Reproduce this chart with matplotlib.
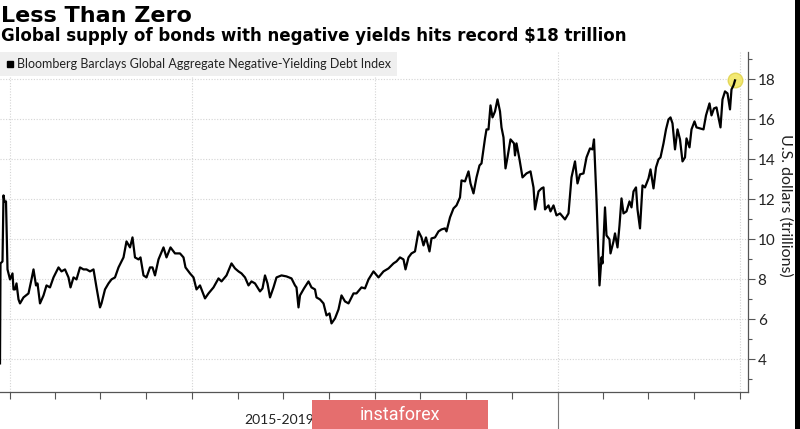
import matplotlib
matplotlib.use("Agg")
import matplotlib.pyplot as plt
import matplotlib.dates as mdates
from matplotlib.lines import Line2D
from matplotlib.patches import Rectangle
from matplotlib.ticker import MultipleLocator, NullFormatter
import pandas as pd

plt.rcParams['font.family'] = ['Lato', 'DejaVu Sans']

TITLE = "Less Than Zero"
SUBTITLE = "Global supply of bonds with negative yields hits record $18 trillion"
SERIES = "Bloomberg Barclays Global Aggregate Negative-Yielding Debt Index"
Y_LABEL = "U.S. dollars (trillions)"
X_LABEL = "2015-2019"
WATERMARK = "instaforex"
START = "2014-12-12"
SPAN_DAYS = 1496

# days since START
days = [0, 1, 5, 7, 9, 12, 15, 20, 25, 27,
        30, 33, 37, 40, 47, 57, 63, 67, 72, 75,
        80, 87, 93, 100, 107, 117, 123, 130, 137, 141,
        147, 153, 160, 167, 173, 180, 187, 193, 200, 203,
        210, 217, 223, 230, 237, 247, 253, 260, 265, 270,
        277, 281, 287, 293, 300, 305, 310, 317, 327, 333,
        341, 350, 360, 367, 371, 380, 387, 393, 400,
        410, 417, 427, 437, 443, 453, 463, 470, 477, 483,
        490, 497, 503, 510, 520, 525, 530, 535, 540, 547,
        553, 563, 573, 583, 590, 593, 597, 600, 608, 617,
        623, 630, 633, 640, 647, 653, 659, 663, 670, 677,
        683, 690, 697, 707, 713, 723, 730, 737, 747, 757,
        767, 777, 787, 793, 800, 807, 811, 817, 823, 830,
        837, 843, 847, 852, 859, 863, 870, 877, 883, 890,
        893, 900, 907, 913, 920, 923, 930, 937, 941, 947,
        953, 959, 963, 970, 973, 977, 981, 985, 990, 995,
        1000, 1003, 1007, 1011, 1015, 1021, 1028, 1030, 1033, 1039,
        1045, 1053, 1061, 1067, 1070, 1077, 1083, 1087, 1090, 1097,
        1101, 1107, 1113, 1120,
        1130, 1137, 1143, 1150, 1155, 1160, 1167, 1173, 1180, 1185,
        1188, 1193, 1199, 1203, 1205, 1210, 1213, 1219, 1221, 1227,
        1230, 1235, 1239, 1243, 1247, 1253, 1259, 1263, 1267, 1272,
        1275, 1280, 1285, 1290, 1297, 1301, 1307, 1312, 1317, 1321,
        1327, 1332, 1337, 1341, 1345, 1350, 1355, 1360, 1365, 1370,
        1373, 1379, 1383, 1389, 1393, 1400, 1407, 1412, 1419, 1423,
        1428, 1433, 1437, 1441, 1445, 1450, 1455, 1460, 1463, 1467,
        1470]

# trillions of dollars
debt = [3.8, 8.8, 8.9, 12.2, 11.9, 11.9, 8.5, 8.0, 8.3, 7.5,
        7.5, 7.8, 7.0, 6.8, 7.1, 7.3, 8.0, 8.5, 7.7, 7.8,
        6.8, 7.2, 7.7, 7.6, 8.1, 8.6, 8.4, 8.5, 8.1, 7.6,
        8.1, 8.0, 8.6, 8.5, 8.5, 8.4, 8.5, 7.6, 6.6, 6.8,
        7.5, 7.8, 8.0, 8.1, 8.6, 9.1, 9.9, 9.6, 10.1, 9.1,
        9.0, 9.1, 8.2, 8.1, 8.6, 8.6, 8.2, 9.0, 9.6, 9.1,
        9.6, 9.3, 9.3, 9.1, 8.6, 8.3, 8.1, 7.5, 7.7,
        7.05, 7.3, 7.6, 8.05, 7.9, 8.2, 8.8, 8.55, 8.4, 8.3,
        8.1, 7.7, 7.9, 7.8, 7.4, 7.55, 8.2, 7.8, 7.1, 7.6,
        8.1, 8.2, 8.15, 8.05, 7.7, 7.6, 6.6, 7.2, 7.55, 7.9,
        7.6, 7.5, 7.1, 7.0, 6.8, 6.2, 6.3, 5.8, 6.05, 6.5,
        7.2, 6.9, 6.8, 7.3, 7.3, 7.6, 7.55, 8.0, 8.4, 8.1,
        8.4, 8.55, 8.8, 8.9, 9.1, 9.0, 8.5, 9.1, 9.3, 9.4,
        10.4, 10.1, 9.7, 10.1, 9.4, 10.05, 10.1, 10.4, 10.5, 10.55,
        10.4, 11.1, 11.55, 11.7, 12.1, 12.95, 12.9, 13.4, 12.8, 12.3,
        13.1, 13.7, 13.8, 15.05, 15.5, 15.5, 16.7, 16.1, 16.4, 17.0,
        16.4, 15.6, 15.1, 13.55, 14.1, 15.0, 14.8, 14.2, 14.8, 14.0,
        13.1, 13.3, 13.4, 12.6, 11.5, 12.4, 12.55, 12.6, 11.5, 11.7,
        11.4, 11.7, 11.2, 11.3,
        11.0, 11.3, 13.1, 13.9, 12.8, 13.25, 13.3, 14.1, 14.55, 14.5,
        15.0, 12.0, 7.7, 9.1, 8.8, 11.6, 10.2, 10.0, 9.3, 9.9,
        10.3, 9.6, 10.7, 12.05, 11.3, 11.4, 11.9, 11.6, 12.4, 12.6,
        11.5, 10.55, 12.7, 12.6, 13.05, 13.5, 12.55, 13.6, 14.0, 14.1,
        14.8, 15.5, 16.0, 16.1, 15.8, 14.5, 15.5, 15.0, 13.9, 14.1,
        15.05, 14.6, 15.5, 15.9, 15.6, 15.55, 15.5, 16.2, 16.8, 16.2,
        16.55, 16.6, 16.1, 15.6, 17.0, 17.4, 17.3, 16.5, 17.5, 17.7,
        17.95]

y_ticks = [4, 6, 8, 10, 12, 14, 16, 18]
separator_date = "2018-01-01"

start = pd.Timestamp(START)
dates = start + pd.to_timedelta(days, unit="D")

fig = plt.figure(figsize=(8, 4.29), dpi=100)
ax = fig.add_axes([0.0, 0.0862, 0.935, 0.7926])

ax.plot(dates, debt, color="black", lw=1.6, zorder=3)
# highlight on the latest value
ax.plot(dates[-1:], debt[-1:], "o", ms=10.5, mfc="#f2e65a", mec="#e0d24a",
        alpha=0.85, zorder=2)

ax.set_xlim(start, start + pd.Timedelta(days=SPAN_DAYS))
ax.set_ylim(2.37, 19.37)

ax.xaxis.set_major_locator(mdates.YearLocator())
ax.xaxis.set_minor_locator(mdates.MonthLocator(bymonth=[1, 4, 7, 10]))
ax.xaxis.set_major_formatter(NullFormatter())
ax.tick_params(axis="x", which="both", direction="out", length=5,
               color="#555555", width=0.8)

ax.yaxis.tick_right()
ax.yaxis.set_label_position("right")
ax.set_yticks(y_ticks)
ax.yaxis.set_minor_locator(MultipleLocator(1))
ax.tick_params(axis="y", which="major", length=5, width=0.8, color="#555555",
               pad=2, labelsize=11, labelcolor="#222222")
ax.tick_params(axis="y", which="minor", length=3, width=0.8, color="#555555")
ax.set_ylabel(Y_LABEL, rotation=270, fontsize=11.5, color="#222222",
              va="center", ha="center")
ax.yaxis.set_label_coords(1.0495, 0.55)

for side in ["left", "top"]:
    ax.spines[side].set_visible(False)
for side in ["right", "bottom"]:
    ax.spines[side].set_color("#555555")
    ax.spines[side].set_linewidth(0.9)

ax.grid(True, which="major", color="#d4d4d4", ls=(0, (1, 1.5)), lw=0.8)
ax.set_axisbelow(True)

# year separator dropping below the axis
sep = mdates.date2num(pd.Timestamp(separator_date))
ax.plot([sep, sep], [0, -0.12], transform=ax.get_xaxis_transform(),
        clip_on=False, color="#777777", lw=0.8)

handle = Line2D([], [], marker="s", color="black", ls="none", markersize=5)
leg = ax.legend([handle], [SERIES], loc="upper left", bbox_to_anchor=(0.0, 1.0),
                borderaxespad=0.0, frameon=True, facecolor="#efefef",
                edgecolor="none", fancybox=False, framealpha=1,
                handlelength=0.6, handletextpad=0.25, borderpad=0.5,
                fontsize=9)
for t in leg.get_texts():
    t.set_color("#222222")

fig.text(0.001, 0.9494, TITLE, fontsize=16, fontweight="bold", va="baseline",
         ha="left", color="black", family="DejaVu Sans")
fig.text(0.001, 0.9051, SUBTITLE, fontsize=11.95, fontweight="bold",
         va="baseline", ha="left", color="black", family="DejaVu Sans")

fig.text(0.305, 0.021, X_LABEL, fontsize=10, va="center", ha="left",
         color="#222222")

# video overlay bits
fig.patches.append(Rectangle((312 / 800, 0), 176 / 800, 29 / 429,
                             transform=fig.transFigure, facecolor="#e56e6e",
                             edgecolor="none", zorder=10))
fig.text(400 / 800, 14 / 429, WATERMARK, fontsize=13, color="white",
         ha="center", va="center", family="Roboto", zorder=11)
fig.patches.append(Rectangle((795 / 800, 0), 5 / 800, 1,
                             transform=fig.transFigure, facecolor="black",
                             edgecolor="none", zorder=10))

fig.savefig("out.png", dpi=100)
